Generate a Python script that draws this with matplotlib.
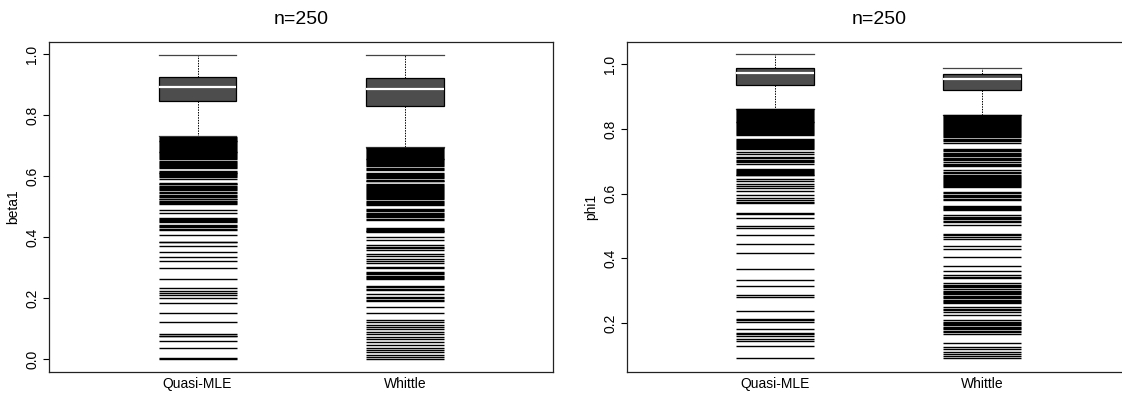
import matplotlib
matplotlib.use("Agg")
import matplotlib.pyplot as plt

plt.rcParams['font.family'] = ['Liberation Sans', 'DejaVu Sans']

groups = ["Quasi-MLE", "Whittle"]
title = "n=250"

# beta1: five-number boxes (whisker low, Q1, median, Q3, whisker high)
beta1_stats = [(0.731, 0.846, 0.891, 0.924, 0.997),
               (0.697, 0.830, 0.887, 0.921, 0.997)]
beta1_out_qmle = [
    0.729, 0.726, 0.723, 0.720, 0.717, 0.714, 0.711, 0.708, 0.705, 0.702,
    0.699, 0.696, 0.693, 0.690, 0.687, 0.684, 0.681, 0.678, 0.675, 0.672,
    0.669, 0.666, 0.663, 0.660, 0.657,
    0.650, 0.647, 0.644, 0.641, 0.638, 0.635, 0.630, 0.627,
    0.618, 0.615, 0.612, 0.609, 0.606, 0.603, 0.600, 0.597, 0.590,
    0.579, 0.576, 0.573, 0.569, 0.566, 0.562, 0.558, 0.554,
    0.547, 0.544, 0.540, 0.536, 0.533,
    0.527, 0.524, 0.520, 0.516, 0.512, 0.508,
    0.490, 0.480, 0.463, 0.460, 0.456, 0.452, 0.449,
    0.440, 0.436, 0.432, 0.428, 0.424, 0.409,
    0.386, 0.383, 0.370, 0.351, 0.335, 0.322, 0.299, 0.263,
    0.233, 0.223, 0.217, 0.211, 0.201, 0.183, 0.153, 0.122,
    0.082, 0.078, 0.076, 0.061, 0.036, 0.004, 0.001]
beta1_out_whittle = [
    0.694, 0.691, 0.688, 0.685, 0.682, 0.679, 0.676, 0.673, 0.670, 0.667,
    0.664, 0.661, 0.658, 0.655, 0.652, 0.649, 0.646, 0.643, 0.640,
    0.636, 0.632, 0.628, 0.624, 0.620, 0.612, 0.608, 0.604, 0.601,
    0.596, 0.593, 0.589, 0.586, 0.583,
    0.574, 0.571, 0.568, 0.565, 0.562, 0.558, 0.555, 0.552, 0.549, 0.546,
    0.542, 0.539, 0.535, 0.531, 0.528, 0.524, 0.520, 0.517, 0.513, 0.509, 0.505,
    0.493, 0.489, 0.485, 0.481, 0.477, 0.473, 0.469, 0.465, 0.461, 0.457,
    0.431, 0.428, 0.425, 0.422, 0.419, 0.416, 0.400, 0.392,
    0.373, 0.369, 0.365, 0.359, 0.346, 0.337, 0.329, 0.322, 0.315,
    0.302, 0.299, 0.286, 0.282, 0.278, 0.274, 0.270, 0.266, 0.262,
    0.240, 0.236, 0.232, 0.228, 0.213, 0.204, 0.200, 0.196, 0.191,
    0.170, 0.153, 0.130, 0.123, 0.114, 0.106, 0.098, 0.089, 0.082, 0.074,
    0.066, 0.056, 0.047, 0.038, 0.030, 0.023, 0.014, 0.007, 0.001]

# phi1
phi1_stats = [(0.863, 0.937, 0.972, 0.988, 1.032),
              (0.844, 0.920, 0.955, 0.971, 0.990)]
phi1_out_qmle = [
    0.862, 0.859, 0.856, 0.853, 0.850, 0.847, 0.844, 0.841, 0.838, 0.835,
    0.832, 0.829, 0.826, 0.823, 0.820, 0.817, 0.814, 0.811, 0.808, 0.805,
    0.802, 0.799, 0.796, 0.793, 0.790, 0.787, 0.784, 0.781,
    0.770, 0.767, 0.764, 0.760, 0.757, 0.754, 0.750, 0.747, 0.744, 0.740, 0.737,
    0.729, 0.724, 0.713, 0.709, 0.705, 0.701, 0.697, 0.693,
    0.677, 0.674, 0.671, 0.668, 0.665, 0.662, 0.659, 0.656,
    0.646, 0.639, 0.631, 0.624, 0.616, 0.608, 0.595,
    0.585, 0.580, 0.575, 0.570, 0.540, 0.536, 0.523,
    0.499, 0.492, 0.473, 0.445, 0.416, 0.368, 0.334, 0.314, 0.285, 0.280,
    0.236, 0.213, 0.208, 0.203, 0.181, 0.170, 0.164, 0.158, 0.151, 0.145,
    0.129, 0.090]
phi1_out_whittle = [
    0.842, 0.839, 0.836, 0.833, 0.830, 0.827, 0.824, 0.821, 0.818, 0.815,
    0.812, 0.809, 0.806, 0.803, 0.800, 0.797, 0.794, 0.791, 0.788, 0.785,
    0.782, 0.779, 0.776, 0.770, 0.766, 0.762, 0.756,
    0.739, 0.735, 0.731, 0.727, 0.723, 0.719, 0.715, 0.711, 0.707, 0.703,
    0.697, 0.693, 0.689, 0.685, 0.672, 0.668, 0.664,
    0.657, 0.654, 0.651, 0.648, 0.645, 0.642, 0.639, 0.636, 0.633, 0.630,
    0.627, 0.624, 0.621, 0.605, 0.601, 0.597, 0.593, 0.589, 0.584, 0.580,
    0.561, 0.558, 0.555, 0.551, 0.548, 0.533, 0.529, 0.525, 0.520, 0.516, 0.512,
    0.502, 0.476, 0.471, 0.466, 0.461, 0.439, 0.429, 0.404, 0.376, 0.360,
    0.347, 0.343, 0.338, 0.322, 0.318, 0.314, 0.310, 0.305, 0.300, 0.296,
    0.292, 0.288, 0.284, 0.280, 0.276, 0.272, 0.268, 0.264, 0.260,
    0.249, 0.244, 0.239, 0.234, 0.224,
    0.208, 0.204, 0.200, 0.196, 0.192, 0.188, 0.184, 0.180, 0.175, 0.171, 0.167,
    0.139, 0.126, 0.118, 0.110, 0.104, 0.096, 0.090]

panels = [
    ("beta1", beta1_stats, [beta1_out_qmle, beta1_out_whittle],
     [0.0, 0.2, 0.4, 0.6, 0.8, 1.0], (-0.04, 1.04)),
    ("phi1", phi1_stats, [phi1_out_qmle, phi1_out_whittle],
     [0.2, 0.4, 0.6, 0.8, 1.0], (0.0495, 1.069)),
]

fig = plt.figure(figsize=(11.22, 3.94), dpi=100)
axes_pos = [[0.0437, 0.0571, 0.4495, 0.8363],
            [0.5586, 0.0571, 0.4491, 0.8363]]

box_w = 0.376
for pos, (ylab, stats, outs, yticks, ylim) in zip(axes_pos, panels):
    ax = fig.add_axes(pos)
    bstats = []
    for name, s, fl in zip(groups, stats, outs):
        bstats.append({"label": name, "whislo": s[0], "q1": s[1], "med": s[2],
                       "q3": s[3], "whishi": s[4], "fliers": fl})
    ax.bxp(bstats, positions=[1, 2], widths=box_w, capwidths=box_w,
           patch_artist=True,
           boxprops=dict(facecolor="#4d4d4d", edgecolor="black", linewidth=0.9),
           medianprops=dict(color="white", linewidth=1.6),
           whiskerprops=dict(color="black", linewidth=0.7, linestyle=(0, (1.5, 1.2))),
           capprops=dict(color="#444444", linewidth=0.9),
           flierprops=dict(marker="_", markersize=56, markeredgewidth=1.0,
                           markeredgecolor="black", linestyle="none"))
    ax.set_xlim(0.284, 2.716)
    ax.set_ylim(*ylim)
    ax.set_yticks(yticks)
    ax.set_yticklabels(["%.1f" % t for t in yticks])
    ax.set_xticks([1, 2])
    ax.set_xticklabels(groups)
    ax.tick_params(axis="x", length=0, pad=4, labelsize=10)
    ax.tick_params(axis="y", length=4, width=0.8, pad=3, labelsize=10,
                   labelrotation=90)
    for lab in ax.get_yticklabels():
        lab.set_va("center")
    for sp in ax.spines.values():
        sp.set_linewidth(0.9)
        sp.set_color("#222222")
    ax.set_ylabel(ylab, fontsize=10)
    ax.yaxis.set_label_coords(-0.057, 0.5)
    ax.set_title(title, fontsize=14, pad=13)

fig.savefig("out.png", dpi=100)
